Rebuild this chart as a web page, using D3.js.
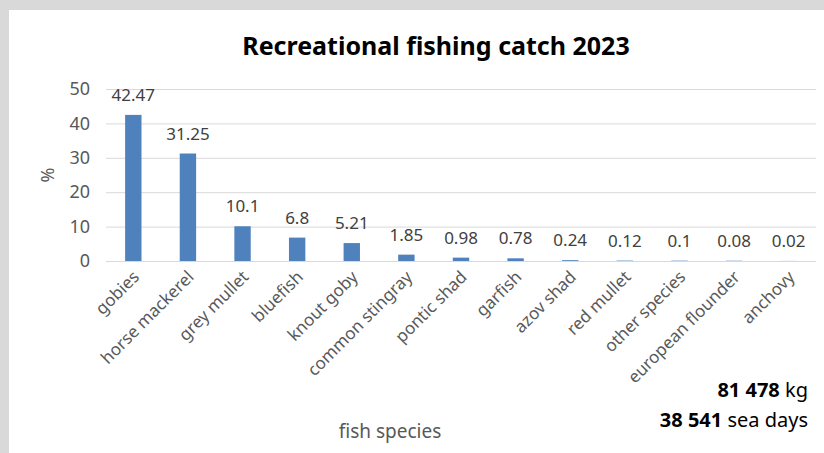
<!DOCTYPE html>
<html>
<head>
<meta charset="utf-8">
<script src="https://cdn.jsdelivr.net/npm/d3@7"></script>
<style>
  body { margin: 0; background: #fff; }
  svg { display: block; font-family: "Noto Sans", "Open Sans", sans-serif; }
</style>
</head>
<body>
<div id="chart"></div>
<script>
// data
const species = ['gobies', 'horse mackerel', 'grey mullet', 'bluefish', 'knout goby',
  'common stingray', 'pontic shad', 'garfish', 'azov shad', 'red mullet',
  'other species', 'european flounder', 'anchovy'];
const share = [42.47, 31.25, 10.1, 6.8, 5.21, 1.85, 0.98, 0.78, 0.24, 0.12, 0.1, 0.08, 0.02];
const yTicks = [0, 10, 20, 30, 40, 50];
const totals = [
  { num: '81 478', unit: ' kg' },
  { num: '38 541', unit: ' sea days' }
];

const width = 824, height = 453;
const svg = d3.select('#chart').append('svg')
  .attr('width', width)
  .attr('height', height);

// grey frame around the chart area
svg.append('rect').attr('width', width).attr('height', height).attr('fill', '#d9d9d9');
svg.append('rect').attr('x', 9).attr('y', 10)
  .attr('width', width - 9).attr('height', height - 10).attr('fill', '#fff');

const x = d3.scaleBand().domain(species).range([106, 816])
  .paddingInner(0.7).paddingOuter(0.35);
const y = d3.scaleLinear().domain([0, 50]).range([261, 89]);

// gridlines + y labels
const yAxis = svg.append('g')
  .attr('transform', 'translate(106,0)')
  .call(d3.axisLeft(y).tickValues(yTicks).tickSize(-710).tickPadding(16));
yAxis.select('.domain').remove();
yAxis.selectAll('.tick line').attr('stroke', '#d9d9d9').attr('stroke-width', 1);
yAxis.selectAll('.tick text')
  .style('font-size', '18px')
  .style('font-family', '"Noto Sans", sans-serif')
  .attr('fill', '#595959');

// bars
svg.selectAll('.bar')
  .data(share)
  .enter().append('rect')
  .attr('class', 'bar')
  .attr('x', (d, i) => x(species[i]))
  .attr('y', d => y(d))
  .attr('width', x.bandwidth())
  .attr('height', d => y(0) - y(d))
  .attr('fill', '#4f81bd');

// value labels
svg.selectAll('.val')
  .data(share)
  .enter().append('text')
  .attr('class', 'val')
  .attr('x', (d, i) => x(species[i]) + x.bandwidth() / 2)
  .attr('y', d => y(d) - 14)
  .attr('text-anchor', 'middle')
  .style('font-size', '17px')
  .attr('fill', '#404040')
  .text(d => d);

// x category labels, rotated
svg.selectAll('.cat')
  .data(species)
  .enter().append('text')
  .attr('class', 'cat')
  .attr('transform', d => `translate(${x(d) + x.bandwidth() / 2 + 7},${278}) rotate(-45)`)
  .attr('text-anchor', 'end')
  .style('font-size', '17px')
  .attr('fill', '#595959')
  .text(d => d);

// title
svg.append('text')
  .attr('x', 436).attr('y', 55)
  .attr('text-anchor', 'middle')
  .style('font-size', '25px')
  .style('font-weight', 'bold')
  .attr('fill', '#000')
  .text('Recreational fishing catch 2023');

// axis titles
svg.append('text')
  .attr('transform', 'translate(54,175) rotate(-90)')
  .attr('text-anchor', 'middle')
  .style('font-size', '18px')
  .attr('fill', '#595959')
  .text('%');

svg.append('text')
  .attr('x', 390).attr('y', 438)
  .attr('text-anchor', 'middle')
  .style('font-size', '19px')
  .attr('fill', '#595959')
  .text('fish species');

// totals box
const tot = svg.append('g');
totals.forEach((t, i) => {
  const tx = tot.append('text')
    .attr('x', 808).attr('y', 397 + i * 30)
    .attr('text-anchor', 'end')
    .style('font-size', '20px')
    .attr('fill', '#000');
  tx.append('tspan').style('font-weight', 'bold').text(t.num);
  tx.append('tspan').text(t.unit);
});
</script>
</body>
</html>
